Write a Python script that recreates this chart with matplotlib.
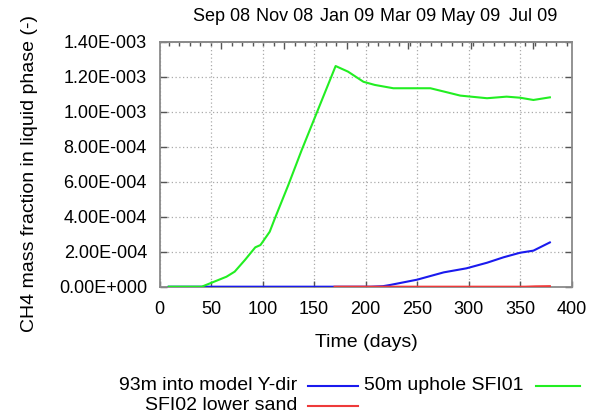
import matplotlib
matplotlib.use("Agg")
import matplotlib.pyplot as plt
from matplotlib.lines import Line2D
from matplotlib.ticker import FixedLocator

plt.rcParams["font.family"] = ["Liberation Sans", "DejaVu Sans"]

# CH4 mass fraction in the liquid phase at three monitoring points
days_sfi01 = [9, 41, 49, 65, 73, 83, 93, 98, 107, 112, 125, 138, 171, 183,
              198, 209, 227, 263, 279, 292, 318, 337, 350, 363, 379]
frac_sfi01 = [0.0, 0.0, 0.19e-4, 0.57e-4, 0.86e-4, 1.53e-4, 2.25e-4, 2.38e-4,
              3.14e-4, 3.90e-4, 5.80e-4, 7.80e-4, 1.261e-3, 1.229e-3, 1.171e-3,
              1.153e-3, 1.134e-3, 1.134e-3, 1.111e-3, 1.092e-3, 1.077e-3,
              1.086e-3, 1.080e-3, 1.067e-3, 1.082e-3]

days_ydir = [9, 205, 217, 224, 250, 276, 298, 318, 334, 350, 363, 379]
frac_ydir = [0.0, 0.0, 0.03e-4, 0.10e-4, 0.40e-4, 0.82e-4, 1.05e-4, 1.37e-4,
             1.68e-4, 1.94e-4, 2.06e-4, 2.53e-4]

days_sfi02 = [170, 355, 365, 379]
frac_sfi02 = [0.0, 0.0, 0.02e-4, 0.03e-4]

x_ticks = [0, 50, 100, 150, 200, 250, 300, 350, 400]
y_ticks = [0.0, 2e-4, 4e-4, 6e-4, 8e-4, 1.0e-3, 1.2e-3, 1.4e-3]
y_tick_labels = ["0.00E+000", "2.00E-004", "4.00E-004", "6.00E-004",
                 "8.00E-004", "1.00E-003", "1.20E-003", "1.40E-003"]
month_days = [60, 121, 182, 241, 302, 363]
month_labels = ["Sep 08", "Nov 08", "Jan 09", "Mar 09", "May 09", "Jul 09"]

label_ydir = "93m into model Y-dir"
label_sfi01 = "50m uphole SFI01"
label_sfi02 = "SFI02 lower sand"

c_ydir = "#1a1aee"
c_sfi01 = "#22ee22"
c_sfi02 = "#ee3a3a"

W, H = 598, 416
fig = plt.figure(figsize=(W / 100, H / 100), dpi=100)
ax = fig.add_axes([159.5 / W, 1 - 286.7 / H, 412 / W, 245 / H])

fs = 13
fs_big = 14
frame = "#8a8a8a"
tickc = "#555555"
lw = 1.5

ax.plot(days_ydir, frac_ydir, color=c_ydir, lw=lw, zorder=3)
ax.plot(days_sfi02, frac_sfi02, color=c_sfi02, lw=lw, zorder=3)
ax.plot(days_sfi01, frac_sfi01, color=c_sfi01, lw=lw, zorder=4)

ax.set_xlim(0, 400)
ax.set_ylim(0, 1.4e-3)
ax.set_xticks(x_ticks)
ax.set_xticklabels([str(v) for v in x_ticks], fontsize=fs)
ax.set_yticks(y_ticks)
ax.set_yticklabels(y_tick_labels, fontsize=fs)
ax.tick_params(axis="x", direction="in", length=4, width=1, color=tickc,
               pad=10, bottom=True, top=False)
ax.tick_params(axis="y", direction="in", length=5, width=1, color=tickc,
               pad=9, left=True, right=True)

ax.grid(True, color="#aaaaaa", lw=0.9, linestyle=(0, (1, 2)))
ax.set_axisbelow(True)
for sp in ax.spines.values():
    sp.set_color(frame)
    sp.set_linewidth(1.3)

# Calendar axis along the top
top = ax.secondary_xaxis("top")
top.set_xticks(month_days)
top.set_xticklabels(month_labels, fontsize=fs)
minor_top = [month_days[0] + k * 61 / 6 for k in range(-5, 38)]
minor_top = [v for v in minor_top if 0 < v < 400]
top.xaxis.set_minor_locator(FixedLocator(minor_top))
top.tick_params(axis="x", which="major", direction="in", length=5, width=1,
                color=tickc, pad=12)
top.tick_params(axis="x", which="minor", direction="in", length=3, width=1,
                color=tickc)
top.spines["top"].set_color(frame)
top.spines["top"].set_linewidth(1.3)

fig.text(366 / W, 1 - 342.7 / H, "Time (days)", fontsize=fs_big,
         ha="center", va="center")
fig.text(30 / W, 1 - 173 / H, "CH4 mass fraction in liquid phase (-)",
         fontsize=fs_big, rotation=90, ha="center", va="center")

# Legend below the plot
def legend_entry(x_text_right, x_line0, x_line1, y, text, color):
    fig.text(x_text_right / W, 1 - y / H, text, fontsize=fs_big,
             ha="right", va="center")
    fig.add_artist(Line2D([x_line0 / W, x_line1 / W], [1 - y / H, 1 - y / H],
                          color=color, lw=lw, transform=fig.transFigure))

legend_entry(297, 308, 358, 385.5, label_ydir, c_ydir)
legend_entry(524, 536, 580, 385.5, label_sfi01, c_sfi01)
legend_entry(297, 308, 358, 405.5, label_sfi02, c_sfi02)

fig.savefig("out.png", dpi=100, facecolor="white")
